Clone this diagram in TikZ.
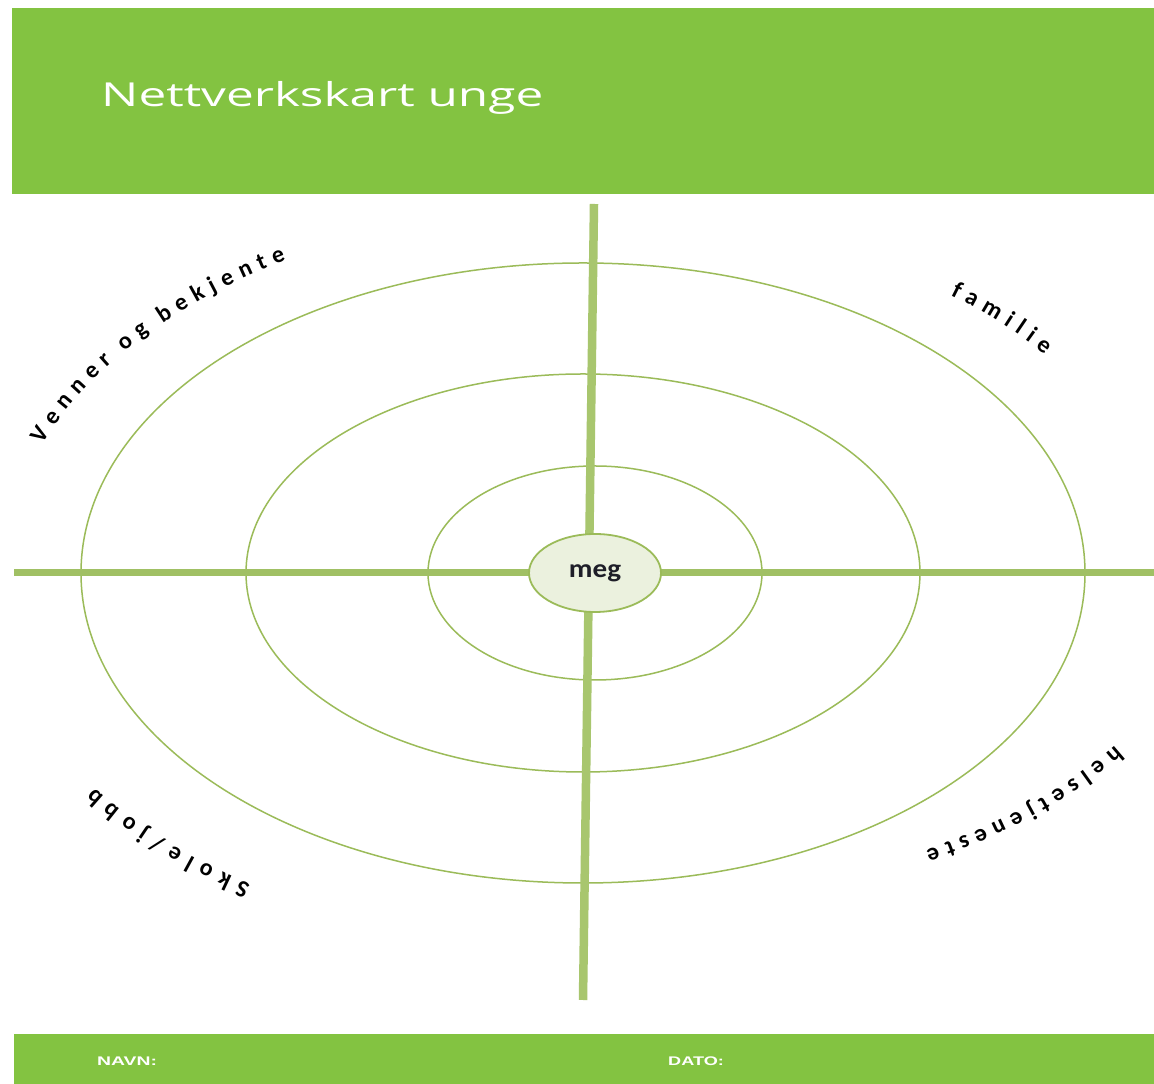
\documentclass[tikz,border=0pt]{standalone}
\usepackage{fontspec}
\setmainfont{Open Sans}
\newfontfamily\carlito{Carlito}
\newfontfamily\libsans{Liberation Sans}
\usetikzlibrary{decorations.markings,shapes.geometric}
\definecolor{hdrgreen}{RGB}{131,195,65}
\definecolor{ringgreen}{RGB}{155,187,89}
\definecolor{hlinegreen}{RGB}{160,192,100}
\definecolor{vlinegreen}{RGB}{168,198,110}
\definecolor{megfill}{RGB}{235,241,222}
\definecolor{megtext}{RGB}{30,30,40}
\newcommand\letterfont{\carlito\bfseries\fontsize{24}{28}\selectfont}
\newdimen\arcpos
% #1 x radius, #2 y radius, #3 start angle, #4 end angle, #5 tracking (pt), #6 letters
\newcommand\arctext[6]{%
  \global\arcpos=0pt
  \foreach \ch in {#6} {%
    \path node[inner sep=0pt, outer sep=0pt, font=\letterfont, anchor=base west] (measure) at (0,0) {\phantom{\ch}};
    \pgfpointdiff{\pgfpointanchor{measure}{west}}{\pgfpointanchor{measure}{east}}%
    \pgfgetlastxy{\letterw}{\lettery}%
    \ifdim\letterw<0.5pt \def\letterw{8pt}\fi
    \dimen2=\arcpos \advance\dimen2 by 0.5\dimexpr\letterw\relax
    \edef\letterpos{\the\dimen2}%
    \path[decoration={markings, mark=at position \letterpos\space with {\node[arcletter] {\ch};}}, decorate]
      (C) ++(#3:#1 and #2) arc[start angle=#3, end angle=#4, x radius=#1, y radius=#2];
    \global\advance\arcpos by \letterw\relax
    \global\advance\arcpos by #5pt\relax
  }%
}
\begin{document}
\begin{tikzpicture}[x=1pt,y=1pt,
  ring/.style={draw=ringgreen, line width=1.5pt},
  axisline/.style={line width=7pt},
  arcletter/.style={transform shape, anchor=base, inner sep=0pt, font=\letterfont, text=black},
  band/.style={fill=hdrgreen, draw=none},
  footlabel/.style={anchor=base west, inner sep=0pt, text=white, font=\libsans\bfseries\fontsize{12.5}{14}\selectfont}]
\useasboundingbox (0,0) rectangle (1154,1084);
\fill[white] (0,0) rectangle (1154,1084);
% header and footer
\fill[band] (12,890) rectangle (1154,1076);
\fill[band] (14,0) rectangle (1154,50);
\node[anchor=base west, inner sep=0pt, text=white, font=\fontsize{33}{38}\selectfont] (title) at (101,977) {\scalebox{1.5}[1]{Nettverkskart unge}};
\node[footlabel] (navn) at (97,18) {\scalebox{1.55}[1]{NAVN:}};
\node[footlabel] (dato) at (668,18) {\scalebox{1.45}[1]{DATO:}};
% centre and rings
\coordinate (C) at (595,511);
\coordinate (C2) at (583,511);
\draw[ring] (C) ellipse[x radius=167, y radius=107];
\draw[ring] (C2) ellipse[x radius=337, y radius=199];
\draw[ring] (C2) ellipse[x radius=502, y radius=310];
% axes
\coordinate (west) at (14,511);
\coordinate (east) at (1154,511);
\coordinate (north) at (594,880);
\coordinate (south) at (583,84);
\draw[axisline, draw=hlinegreen] (west) -- (east);
\draw[axisline, draw=vlinegreen, line width=8.5pt] (north) -- (south);
\node[ellipse, draw=ringgreen, line width=1.8pt, fill=megfill, minimum width=132pt, minimum height=78pt, inner sep=0pt, text=megtext, font=\carlito\bfseries\fontsize{26}{28}\selectfont] (meg) at (C) {\raisebox{-4pt}{\scalebox{1.12}[1]{meg}}};
% curved labels
\arctext{590}{367}{159.5}{105}{7.3}{V,e,n,n,e,r,{},o,g,{},b,e,k,j,e,n,t,e}
\arctext{571}{355}{51.5}{25}{7.2}{f,a,m,i,l,i,e}
\arctext{610}{330}{-31.5}{-75}{7.0}{h,e,l,s,e,t,j,e,n,e,s,t,e}
\arctext{608}{378}{235.5}{195}{8.4}{S,k,o,l,e,{/},j,o,b,b}
\end{tikzpicture}
\end{document}
